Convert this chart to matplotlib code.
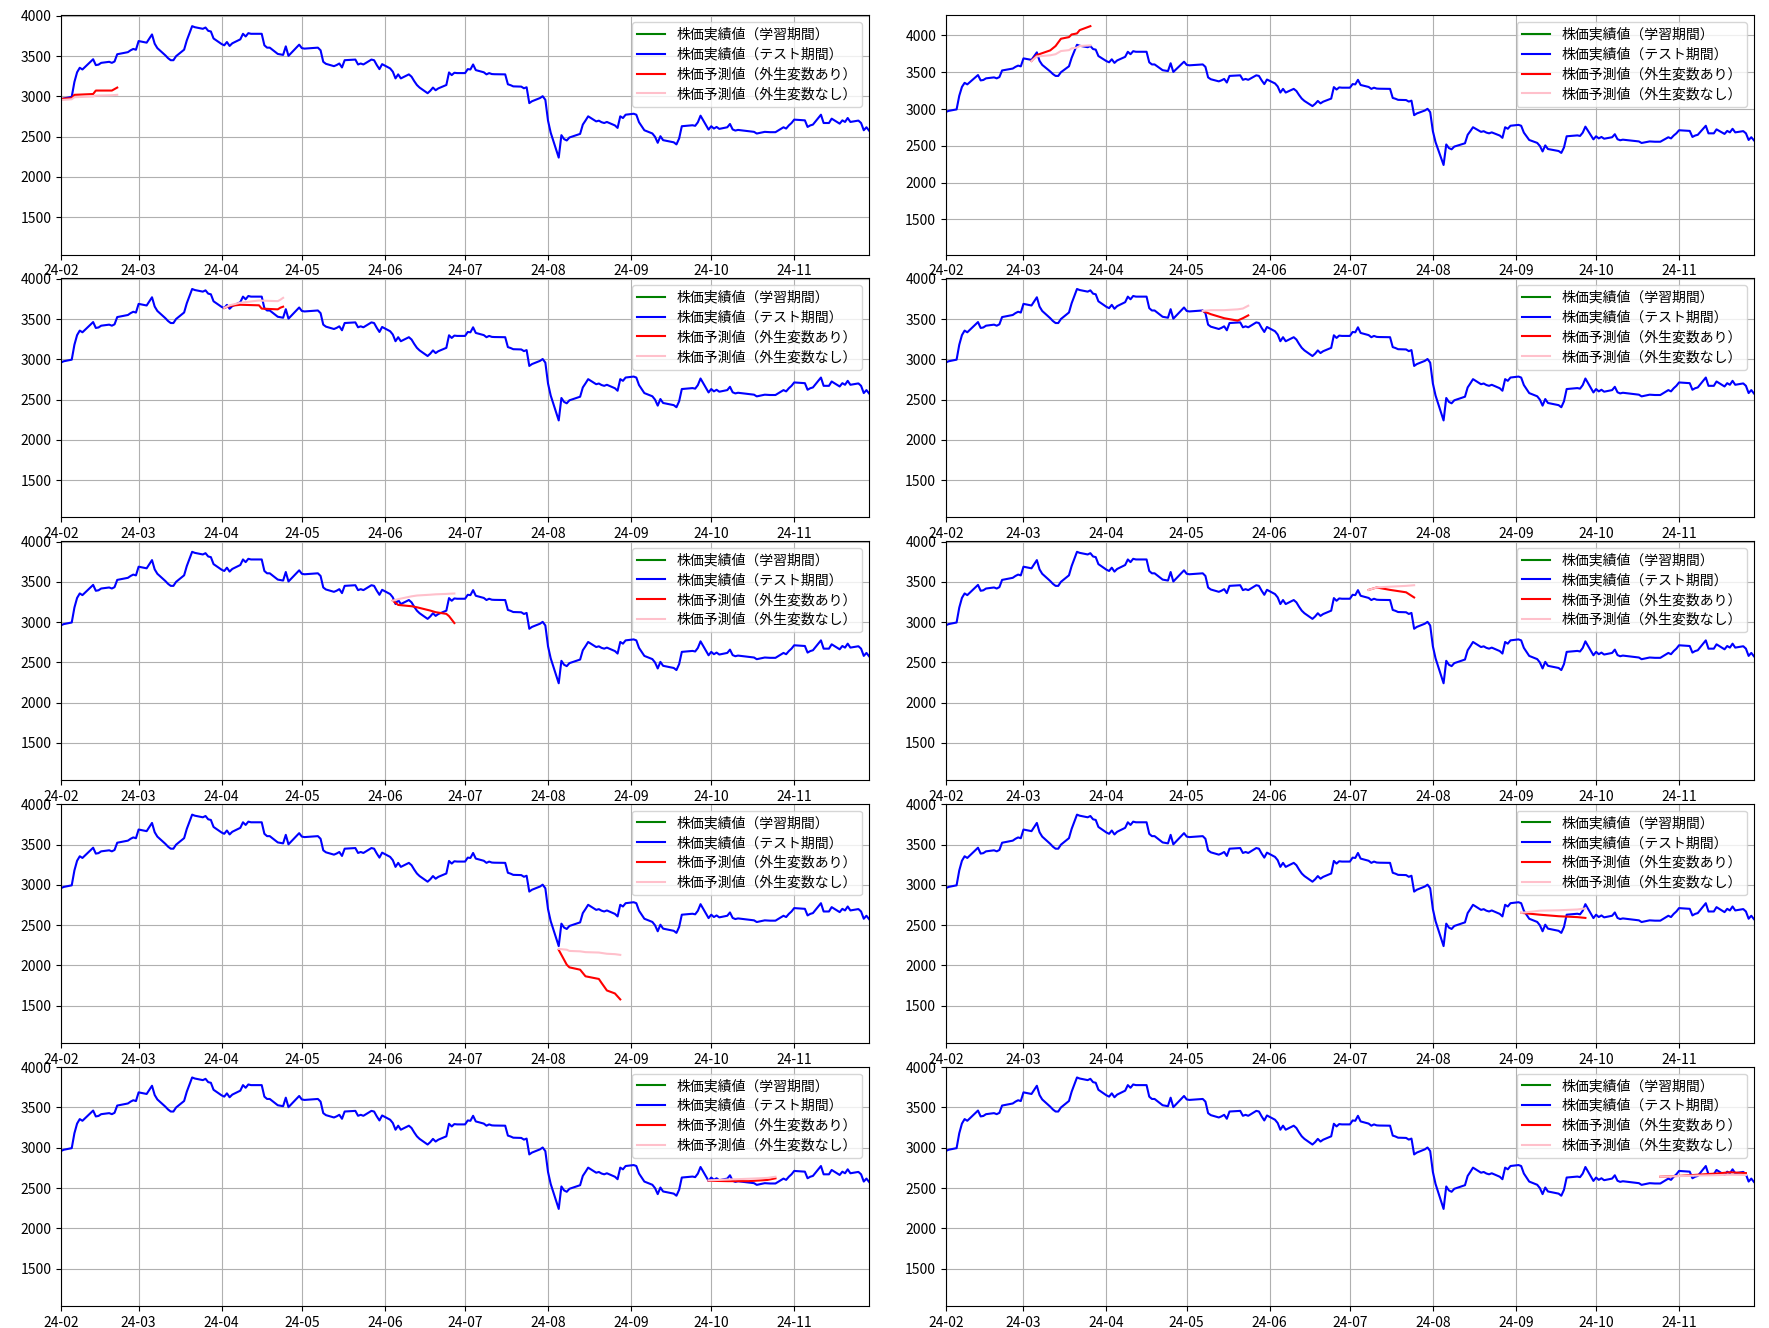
import matplotlib
matplotlib.use('Agg')
import matplotlib.pyplot as plt
import matplotlib.dates as mdates
import numpy as np
import pandas as pd

plt.rcParams['font.family'] = ['Noto Sans CJK JP', 'DejaVu Sans']

# actual closing price, test period (trading days, 2024)
test_dates = [
    '02-01', '02-02', '02-05', '02-06', '02-07', '02-08', '02-09', '02-13', '02-14', '02-15',
    '02-16', '02-19', '02-20', '02-21', '02-22', '02-26', '02-27', '02-28', '02-29', '03-01',
    '03-04', '03-05', '03-06', '03-07', '03-08', '03-11', '03-12', '03-13', '03-14', '03-15',
    '03-18', '03-19', '03-21', '03-22', '03-25', '03-26', '03-27', '03-28', '03-29', '04-01',
    '04-02', '04-03', '04-04', '04-05', '04-08', '04-09', '04-10', '04-11', '04-12', '04-15',
    '04-16', '04-17', '04-18', '04-19', '04-22', '04-23', '04-24', '04-25', '04-26', '04-30',
    '05-01', '05-02', '05-07', '05-08', '05-09', '05-10', '05-13', '05-14', '05-15', '05-16',
    '05-17', '05-20', '05-21', '05-22', '05-23', '05-24', '05-27', '05-28', '05-29', '05-30',
    '05-31', '06-03', '06-04', '06-05', '06-06', '06-07', '06-10', '06-11', '06-12', '06-13',
    '06-14', '06-17', '06-18', '06-19', '06-20', '06-21', '06-24', '06-25', '06-26', '06-27',
    '06-28', '07-01', '07-02', '07-03', '07-04', '07-05', '07-08', '07-09', '07-10', '07-11',
    '07-12', '07-16', '07-17', '07-18', '07-19', '07-22', '07-23', '07-24', '07-25', '07-26',
    '07-29', '07-30', '07-31', '08-01', '08-02', '08-05', '08-06', '08-07', '08-08', '08-09',
    '08-13', '08-14', '08-15', '08-16', '08-19', '08-20', '08-21', '08-22', '08-23', '08-26',
    '08-27', '08-28', '08-29', '08-30', '09-02', '09-03', '09-04', '09-05', '09-06', '09-09',
    '09-10', '09-11', '09-12', '09-13', '09-17', '09-18', '09-19', '09-20', '09-24', '09-25',
    '09-26', '09-27', '09-30', '10-01', '10-02', '10-03', '10-04', '10-07', '10-08', '10-09',
    '10-10', '10-11', '10-15', '10-16', '10-17', '10-18', '10-21', '10-22', '10-23', '10-24',
    '10-25', '10-28', '10-29', '10-30', '10-31', '11-01', '11-05', '11-06', '11-07', '11-08',
    '11-11', '11-12', '11-13', '11-14', '11-15', '11-18', '11-19', '11-20', '11-21', '11-22',
    '11-25', '11-26', '11-27', '11-28', '11-29',
]
test_close = [
    2960, 2975, 2995, 3180, 3300, 3356, 3335, 3462, 3389, 3395,
    3417, 3430, 3417, 3434, 3524, 3550, 3573, 3590, 3580, 3688,
    3668, 3720, 3770, 3655, 3600, 3510, 3475, 3450, 3450, 3500,
    3581, 3696, 3873, 3860, 3840, 3856, 3815, 3807, 3720, 3651,
    3635, 3676, 3627, 3660, 3709, 3778, 3745, 3786, 3778, 3778,
    3778, 3635, 3606, 3606, 3528, 3522, 3516, 3622, 3504, 3643,
    3600, 3594, 3606, 3573, 3430, 3405, 3376, 3390, 3409, 3360,
    3450, 3455, 3458, 3397, 3409, 3397, 3458, 3450, 3390, 3339,
    3401, 3348, 3307, 3224, 3274, 3224, 3274, 3245, 3190, 3142,
    3110, 3040, 3070, 3110, 3077, 3100, 3142, 3298, 3265, 3294,
    3290, 3290, 3339, 3335, 3397, 3327, 3300, 3274, 3290, 3278,
    3276, 3274, 3151, 3140, 3125, 3122, 3101, 3114, 2917, 2940,
    2980, 3003, 2958, 2699, 2550, 2240, 2519, 2470, 2453, 2490,
    2535, 2650, 2700, 2753, 2690, 2699, 2680, 2670, 2683, 2640,
    2609, 2753, 2732, 2773, 2785, 2773, 2680, 2630, 2580, 2540,
    2498, 2424, 2506, 2457, 2430, 2404, 2478, 2630, 2642, 2635,
    2679, 2761, 2588, 2630, 2601, 2621, 2597, 2617, 2658, 2590,
    2576, 2584, 2568, 2565, 2560, 2539, 2560, 2558, 2556, 2556,
    2556, 2617, 2601, 2640, 2670, 2712, 2703, 2621, 2640, 2650,
    2773, 2670, 2670, 2670, 2724, 2662, 2703, 2683, 2732, 2683,
    2700, 2670, 2580, 2617, 2575,
]

# lowest price in the training period (not drawn, but part of the y autoscale)
train_min = 1170

# predictions for each window: dates, with exogenous vars (red), without (pink)
pred_dates = [
    ['02-01', '02-05', '02-06', '02-13', '02-14', '02-20', '02-22'],
    ['03-04', '03-06', '03-11', '03-13', '03-15', '03-18', '03-19', '03-21', '03-22', '03-26'],
    ['04-02', '04-04', '04-08', '04-15', '04-16', '04-22', '04-23', '04-24'],
    ['05-07', '05-10', '05-15', '05-20', '05-22', '05-24'],
    ['06-04', '06-06', '06-11', '06-13', '06-18', '06-20', '06-24', '06-25', '06-27'],
    ['07-08', '07-11', '07-16', '07-22', '07-25'],
    ['08-05', '08-08', '08-09', '08-13', '08-15', '08-20', '08-21', '08-23', '08-26', '08-28'],
    ['09-03', '09-10', '09-17', '09-24', '09-27'],
    ['09-30', '10-07', '10-15', '10-22', '10-25'],
    ['10-25', '11-01', '11-08', '11-15', '11-20', '11-26'],
]
pred_exog = [
    [2970, 2978, 3020, 3030, 3073, 3073, 3110],
    [3653, 3734, 3797, 3856, 3955, 3977, 4013, 4027, 4072, 4126],
    [3637, 3662, 3677, 3670, 3629, 3620, 3641, 3653],
    [3600, 3560, 3510, 3480, 3510, 3545],
    [3266, 3213, 3197, 3184, 3143, 3123, 3102, 3074, 2988],
    [3400, 3430, 3400, 3370, 3306],
    [2193, 2009, 1976, 1947, 1865, 1832, 1783, 1689, 1652, 1578],
    [2653, 2630, 2611, 2600, 2590],
    [2590, 2585, 2585, 2600, 2620],
    [2640, 2650, 2665, 2680, 2695, 2685],
]
pred_noexog = [
    [2955, 2965, 2990, 3000, 3010, 3015, 3020],
    [3653, 3715, 3730, 3745, 3788, 3800, 3824, 3835, 3856, 3865],
    [3637, 3670, 3702, 3730, 3728, 3722, 3740, 3763],
    [3600, 3610, 3610, 3620, 3630, 3665],
    [3266, 3285, 3320, 3330, 3340, 3345, 3350, 3352, 3355],
    [3400, 3430, 3440, 3450, 3458],
    [2205, 2195, 2180, 2175, 2165, 2160, 2155, 2145, 2140, 2131],
    [2653, 2680, 2685, 2695, 2708],
    [2595, 2605, 2615, 2625, 2640],
    [2640, 2648, 2655, 2660, 2665, 2662],
]

labels = ['株価実績値（学習期間）', '株価実績値（テスト期間）',
          '株価予測値（外生変数あり）', '株価予測値（外生変数なし）']


def to_dt(days):
    return pd.to_datetime(['2024-' + d for d in days])


x_test = to_dt(test_dates)
y_test = np.array(test_close)

fig, axes = plt.subplots(5, 2, figsize=(17.69, 13.28), dpi=100)
fig.subplots_adjust(left=0.0345, right=0.9915, top=0.9885, bottom=0.0166,
                    wspace=0.095, hspace=0.098)

for i, ax in enumerate(axes.flat):
    xp = to_dt(pred_dates[i])
    ax.plot([], [], color='green', label=labels[0])
    ax.plot(x_test, y_test, color='blue', label=labels[1])
    ax.plot(xp, pred_exog[i], color='red', label=labels[2])
    ax.plot(xp, pred_noexog[i], color='pink', label=labels[3])

    lo = train_min
    hi = max(y_test.max(), max(pred_exog[i]), max(pred_noexog[i]))
    pad = 0.05 * (hi - lo)
    ax.set_ylim(lo - pad, hi + pad)
    ax.set_xlim(x_test[0], x_test[-1])

    ax.xaxis.set_major_locator(mdates.MonthLocator())
    ax.xaxis.set_major_formatter(mdates.DateFormatter('%y-%m'))
    ax.grid(True)
    ax.legend(loc='upper right', labelspacing=0.42)

plt.savefig('out.png')
